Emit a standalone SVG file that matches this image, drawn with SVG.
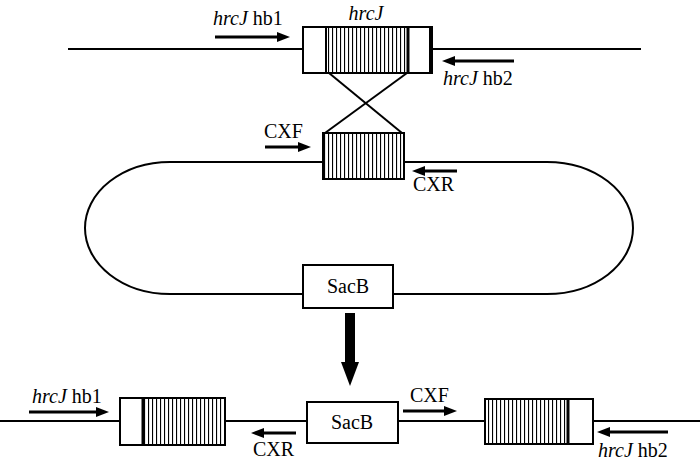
<svg xmlns="http://www.w3.org/2000/svg" width="700" height="466" viewBox="0 0 700 466">
<defs>
<pattern id="hatch" patternUnits="userSpaceOnUse" width="4" height="10">
<rect x="0" y="0" width="4" height="10" fill="#fff"/>
<rect x="0" y="0" width="1.1" height="10" fill="#000"/>
</pattern>
</defs>
<style>
.ln{stroke:#000;stroke-width:2;fill:none}
.box{stroke:#000;stroke-width:2;fill:#fff}
.hb{stroke:#000;stroke-width:2;fill:url(#hatch)}
.div{stroke:#000;stroke-width:3}
.ar{stroke:#000;stroke-width:3}
.hd{fill:#000}
text{font-family:"Liberation Serif","Times New Roman",serif;font-size:20px;fill:#000}
.it{font-style:italic}
</style>
<rect width="700" height="466" fill="#fff"/>
<g id="connectors">
<line class="ln" x1="68" y1="49" x2="303" y2="49"/>
<line class="ln" x1="432" y1="49" x2="641" y2="49"/>
<line class="ln" x1="329" y1="73" x2="402" y2="133"/>
<line class="ln" x1="407" y1="73" x2="325" y2="133"/>
<path class="ln" d="M170 162 H547 A86 66 0 0 1 547 294 H170 A85 66 0 0 1 170 162 Z"/>
<line class="ln" x1="0" y1="421" x2="120" y2="421"/>
<line class="ln" x1="225" y1="421" x2="307" y2="421"/>
<line class="ln" x1="398" y1="421" x2="485" y2="421"/>
<line class="ln" x1="593" y1="421" x2="700" y2="421"/>
</g>
<g id="hrcJ-top">
<rect class="box" x="303" y="27" width="129" height="46"/>
<rect class="hb" x="326" y="27" width="82" height="46"/>
<line class="div" x1="408" y1="27" x2="408" y2="73"/>
<line stroke="#000" stroke-width="4" x1="431" y1="26" x2="431" y2="74"/>
<text class="it" x="366" y="20" text-anchor="middle">hrcJ</text>
</g>
<g id="hb1-top">
<line class="ar" x1="215" y1="37" x2="280" y2="37"/>
<polygon class="hd" points="290,37 277,32 277,42"/>
<text x="213" y="25"><tspan class="it">hrcJ</tspan> hb1</text>
</g>
<g id="hb2-top">
<line class="ar" x1="452" y1="61" x2="514" y2="61"/>
<polygon class="hd" points="442,61 455,56 455,66"/>
<text x="443" y="85"><tspan class="it">hrcJ</tspan> hb2</text>
</g>
<g id="plasmid-insert">
<rect class="hb" x="323" y="133" width="81" height="46"/>
</g>
<g id="cxf-plasmid">
<line class="ar" x1="265" y1="147" x2="300" y2="147"/>
<polygon class="hd" points="311,147 298,142 298,152"/>
<text x="264" y="138">CXF</text>
</g>
<g id="cxr-plasmid">
<line class="ar" x1="422" y1="171" x2="457" y2="171"/>
<polygon class="hd" points="412,171 425,166 425,176"/>
<text x="413" y="191">CXR</text>
</g>
<g id="sacb-plasmid">
<rect class="box" x="303" y="265" width="90" height="43"/>
<text x="348" y="293" text-anchor="middle">SacB</text>
</g>
<g id="big-arrow">
<rect x="345" y="313" width="10" height="55" fill="#000"/>
<polygon class="hd" points="341,362 359,362 350,386"/>
</g>
<g id="box-left">
<rect class="box" x="120" y="398" width="105" height="47"/>
<rect class="hb" x="143" y="398" width="82" height="47"/>
<line class="div" x1="143" y1="398" x2="143" y2="445"/>
</g>
<g id="hb1-bottom">
<line class="ar" x1="29" y1="412" x2="98" y2="412"/>
<polygon class="hd" points="109,412 96,407 96,417"/>
<text x="32" y="403"><tspan class="it">hrcJ</tspan> hb1</text>
</g>
<g id="cxr-bottom">
<line class="ar" x1="262" y1="433" x2="296" y2="433"/>
<polygon class="hd" points="251,433 264,428 264,438"/>
<text x="253" y="456">CXR</text>
</g>
<g id="sacb-bottom">
<rect class="box" x="307" y="402" width="91" height="41"/>
<text x="352" y="429" text-anchor="middle">SacB</text>
</g>
<g id="cxf-bottom">
<line class="ar" x1="403" y1="411" x2="446" y2="411"/>
<polygon class="hd" points="457,411 444,406 444,416"/>
<text x="410" y="402">CXF</text>
</g>
<g id="box-right">
<rect class="box" x="485" y="399" width="108" height="45"/>
<rect class="hb" x="485" y="399" width="83" height="45"/>
<line class="div" x1="568" y1="399" x2="568" y2="444"/>
</g>
<g id="hb2-bottom">
<line class="ar" x1="608" y1="432" x2="668" y2="432"/>
<polygon class="hd" points="597,432 610,427 610,437"/>
<text x="598" y="457"><tspan class="it">hrcJ</tspan> hb2</text>
</g>
</svg>
